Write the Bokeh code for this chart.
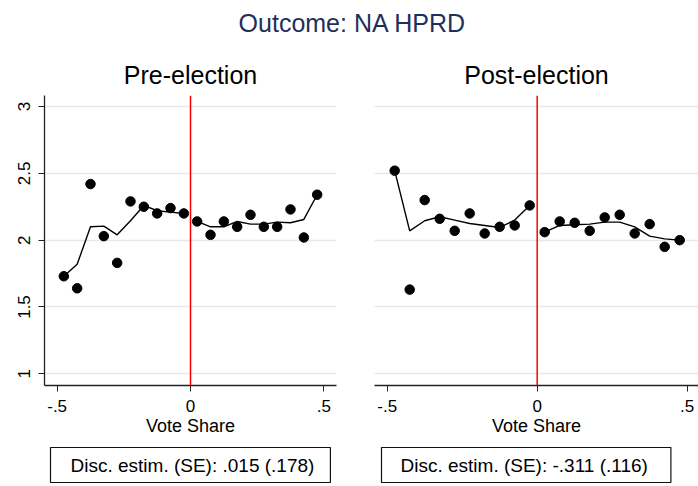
from bokeh.plotting import figure
from bokeh.models import Range1d, FixedTicker, Span, Label
from bokeh.layouts import column, row
from bokeh.embed import file_html
from bokeh.resources import INLINE

# ---------------- data ----------------
bins = [-0.475, -0.425, -0.375, -0.325, -0.275, -0.225, -0.175, -0.125, -0.075, -0.025,
        0.025, 0.075, 0.125, 0.175, 0.225, 0.275, 0.325, 0.375, 0.425, 0.475]

pre_means = [1.73, 1.64, 2.42, 2.03, 1.83, 2.29, 2.25, 2.20, 2.24, 2.20,
             2.14, 2.04, 2.14, 2.10, 2.19, 2.10, 2.10, 2.23, 2.02, 2.34]
pre_fit_below = [1.73, 1.82, 2.10, 2.105, 2.04, 2.145, 2.26, 2.22, 2.21, 2.20]
pre_fit_above = [2.14, 2.10, 2.10, 2.14, 2.12, 2.12, 2.135, 2.13, 2.155, 2.34]

post_means = [2.52, 1.63, 2.30, 2.16, 2.07, 2.20, 2.05, 2.10, 2.11, 2.26,
              2.06, 2.14, 2.13, 2.07, 2.17, 2.19, 2.05, 2.12, 1.95, 2.00]
post_fit_below = [2.52, 2.07, 2.145, 2.175, 2.15, 2.125, 2.11, 2.095, 2.15, 2.26]
post_fit_above = [2.06, 2.11, 2.115, 2.12, 2.135, 2.135, 2.10, 2.03, 2.01, 2.00]

y_ticks = [1, 1.5, 2, 2.5, 3]
y_tick_labels = ["1", "1.5", "2", "2.5", "3"]
x_ticks = [-0.5, 0, 0.5]
x_tick_labels = ["-.5", "0", ".5"]

main_title = "Outcome: NA HPRD"
panel_titles = ["Pre-election", "Post-election"]
x_label = "Vote Share"
estimates = ["Disc. estim. (SE): .015 (.178)", "Disc. estim. (SE): -.311 (.116)"]
cutoff = 0

FONT = "Liberation Sans"


def blank(width, height):
    f = figure(width=width, height=height, toolbar_location=None, output_backend="svg",
               x_axis_location=None, y_axis_location=None, min_border=0,
               x_range=Range1d(0, 1), y_range=Range1d(0, 1))
    f.outline_line_color = None
    f.grid.visible = False
    f.background_fill_color = "white"
    f.border_fill_color = "white"
    return f


def make_panel(title, means, fit_below, fit_above, width, mbl, mbr,
               x_start, x_end, show_y):
    p = figure(width=width, height=396, toolbar_location=None, output_backend="svg",
               x_range=Range1d(x_start, x_end), y_range=Range1d(0.9125, 3.0825),
               min_border_left=mbl, min_border_right=mbr,
               min_border_top=50, min_border_bottom=56)
    p.outline_line_color = None
    p.background_fill_color = "white"
    p.border_fill_color = "white"

    p.title.text = title
    p.title.align = "center"
    p.title.text_font = FONT
    p.title.text_font_size = "25px"
    p.title.text_font_style = "normal"
    p.title.text_color = "black"
    p.title.standoff = 14

    # axes
    p.xaxis.ticker = FixedTicker(ticks=x_ticks)
    p.xaxis.major_label_overrides = {t: l for t, l in zip(x_ticks, x_tick_labels)}
    p.xaxis.axis_label = x_label
    p.xaxis.axis_label_text_font = FONT
    p.xaxis.axis_label_text_font_size = "18px"
    p.xaxis.axis_label_text_font_style = "normal"
    p.xaxis.axis_label_text_color = "black"
    p.xaxis.axis_label_standoff = 1
    p.xaxis.major_label_standoff = 8
    p.xaxis.major_label_text_font = FONT
    p.xaxis.major_label_text_font_size = "17px"
    p.xaxis.major_label_text_color = "black"
    p.xaxis.minor_tick_line_color = None
    p.xaxis.major_tick_out = 6
    p.xaxis.major_tick_in = 0
    p.xaxis.axis_line_color = "#222222"
    p.xaxis.axis_line_width = 1.3
    p.xaxis.major_tick_line_color = "#222222"

    p.yaxis.ticker = FixedTicker(ticks=y_ticks)
    p.yaxis.major_label_overrides = {t: l for t, l in zip(y_ticks, y_tick_labels)}
    p.yaxis.major_label_orientation = "vertical"
    p.yaxis.major_label_standoff = 8
    p.yaxis.major_label_text_font = FONT
    p.yaxis.major_label_text_font_size = "17px"
    p.yaxis.major_label_text_color = "black"
    p.yaxis.minor_tick_line_color = None
    p.yaxis.major_tick_out = 6
    p.yaxis.major_tick_in = 0
    p.yaxis.axis_line_color = "#222222"
    p.yaxis.axis_line_width = 1.3
    p.yaxis.major_tick_line_color = "#222222"
    if not show_y:
        p.yaxis.visible = False

    p.xgrid.visible = False
    p.ygrid.ticker = FixedTicker(ticks=y_ticks)
    p.ygrid.grid_line_color = "#e8e8e8"
    p.ygrid.grid_line_width = 1.5

    # fitted lines and bin means
    p.line(bins[:10], fit_below, line_color="black", line_width=1.4)
    p.line(bins[10:], fit_above, line_color="black", line_width=1.4)
    p.scatter(bins, means, size=9.5, fill_color="black", line_color="black")

    p.add_layout(Span(location=cutoff, dimension="height", line_color="red", line_width=1.5))
    return p


def est_box(text, width, box_x, pad_left, pad_right):
    b = blank(width, 45)
    # padding order: (left, right, top, bottom)
    b.add_layout(Label(x=box_x, y=21.5, x_units="screen", y_units="screen", text=text,
                       text_align="left", text_baseline="middle",
                       text_font=FONT, text_font_size="19px", text_color="black",
                       border_line_color="#111111", border_line_width=1.2,
                       background_fill_color="white",
                       padding=(pad_left, pad_right, 7, 7)))
    return b


p0 = blank(698, 45)
p0.add_layout(Label(x=352, y=22.5, x_units="screen", y_units="screen", text=main_title,
                    text_align="center", text_baseline="middle",
                    text_font=FONT, text_font_size="25px", text_color="#1e2f5c"))

p1 = make_panel(panel_titles[0], pre_means, pre_fit_below, pre_fit_above,
                355, 44, 19, -0.5475, 0.5475, True)
p2 = make_panel(panel_titles[1], post_means, post_fit_below, post_fit_above,
                343, 19, 0, -0.5423, 0.5377, False)

b1 = est_box(estimates[0], 355, 50, 20, 16)
b2 = est_box(estimates[1], 343, 26, 19, 23)

layout = column(p0, row(p1, p2), row(b1, b2))
open("out.html", "w").write(file_html(layout, INLINE))
